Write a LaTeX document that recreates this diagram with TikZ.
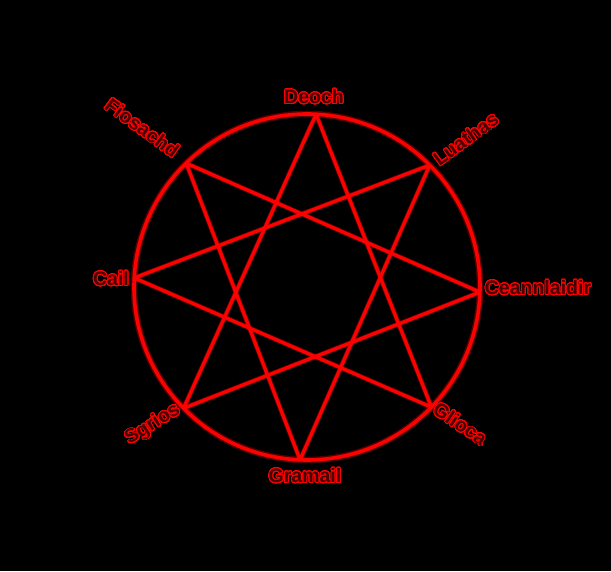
\documentclass[tikz,border=0pt]{standalone}
\usepackage{fontspec}
\setmainfont{Liberation Sans}
\usepackage{contour}
\contourlength{0.9pt}
\contournumber{32}
\definecolor{glowred}{RGB}{170,0,0}
\definecolor{lblfill}{RGB}{70,0,0}
\definecolor{brightred}{RGB}{255,0,0}
\tikzset{
  glow/.style={draw=glowred, line width=6.5pt, opacity=0.5},
  core/.style={draw=brightred, line width=3.6pt},
  starglow/.style={draw=glowred, line width=5pt, opacity=0.5},
  starcore/.style={draw=brightred, line width=3.4pt},
  lbl/.style={text=lblfill, font=\bfseries\fontsize{19.5}{19.5}\selectfont, inner sep=0pt}
}
\newcommand{\lab}[1]{\contour{brightred}{#1}}
\begin{document}
\begin{tikzpicture}[x=1pt,y=1pt]
\fill[black] (0,0) rectangle (611,571);
\useasboundingbox (0,0) rectangle (611,571);
\coordinate (c) at (307,284);
\coordinate (v0) at ([shift={(87:173pt)}]c);
\coordinate (v1) at ([shift={(44.8:173pt)}]c);
\coordinate (v2) at ([shift={(-1.7:173pt)}]c);
\coordinate (v3) at ([shift={(-44:173pt)}]c);
\coordinate (v4) at ([shift={(-92.3:173pt)}]c);
\coordinate (v5) at ([shift={(-135.5:173pt)}]c);
\coordinate (v6) at ([shift={(177:173pt)}]c);
\coordinate (v7) at ([shift={(134.3:173pt)}]c);
% glow
\draw[glow] (c) circle[radius=173pt];
\foreach \i/\j in {0/3,3/6,6/1,1/4,4/7,7/2,2/5,5/0}{
  \draw[starglow] (v\i) -- (v\j);
}
\foreach \i/\j in {0/3,3/6,6/1,1/4,4/7,7/2,2/5,5/0}{
  \draw[starcore] (v\i) -- (v\j);
}
\draw[core] (c) circle[radius=173pt];
% labels
\node[lbl] (deoch) at (314,474) {\lab{Deoch}};
\node[lbl, rotate=36] (luathas) at (466,432) {\lab{Luathas}};
\node[lbl] (ceann) at (538,283) {\lab{Ceannlaidir}};
\node[lbl, rotate=-34] (glioca) at (460,147) {\lab{Glioca}};
\node[lbl] (gramail) at (305,95) {\lab{Gramail}};
\node[lbl, rotate=32] (sgrios) at (153,146) {\lab{Sgrios}};
\node[lbl] (cail) at (111,292) {\lab{Cail}};
\node[lbl, rotate=-36] (fiosachd) at (142,443) {\lab{Fiosachd}};
\end{tikzpicture}
\end{document}
